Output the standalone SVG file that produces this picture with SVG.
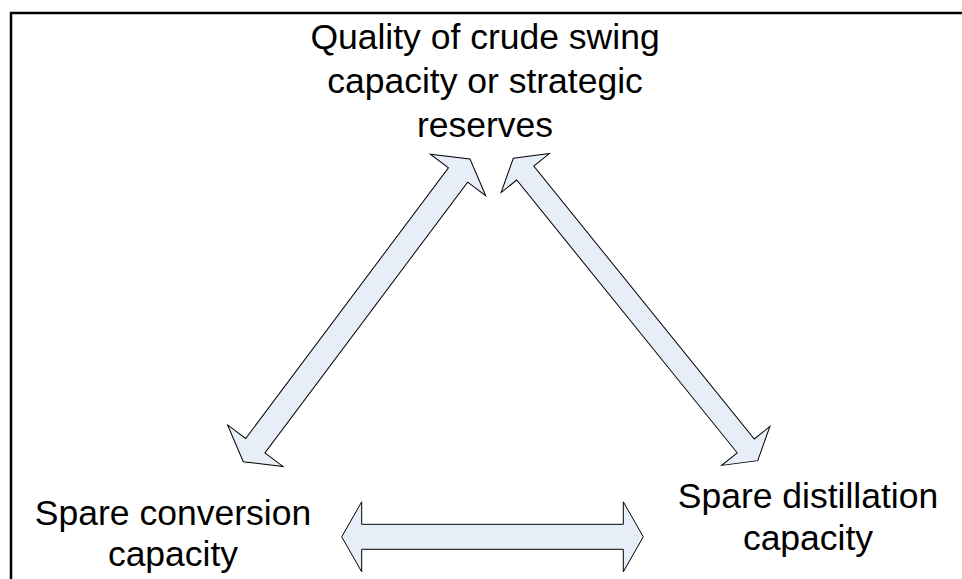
<svg xmlns="http://www.w3.org/2000/svg" width="962" height="579" viewBox="0 0 962 579">
  <style>
    .label { font-family: "Liberation Sans", Arial, sans-serif; font-size: 35.5px; fill: #000; text-anchor: middle; }
    .arrow { fill: #E8EEF8; stroke: #000; stroke-width: 1; stroke-linejoin: miter; }
    .frame { fill: none; stroke: #000; stroke-width: 2.5; }
  </style>

  <rect x="0" y="0" width="962" height="579" fill="#fff"/>

  <!-- open frame: left and top edges -->
  <path class="frame" d="M11,579 V13 H962"/>

  <!-- double-headed block arrows, drawn along local x from tip to tip -->
  <g id="connectors">
    <!-- crude quality <-> spare conversion -->
    <g transform="translate(243.3,461.7) rotate(-53.17)">
      <path class="arrow" d="M0,0 L20,-34.6 L20,-12 L358.2,-12 L358.2,-34.6 L378.2,0 L358.2,34.6 L358.2,12 L20,12 L20,34.6 Z"/>
    </g>
    <!-- crude quality <-> spare distillation -->
    <g transform="translate(513.3,158.3) rotate(51.05)">
      <path class="arrow" d="M0,0 L19,-31 L19,-11 L369.8,-11 L369.8,-31 L388.8,0 L369.8,31 L369.8,11 L19,11 L19,31 Z"/>
    </g>
    <!-- spare conversion <-> spare distillation -->
    <g transform="translate(341.7,536.8)">
      <path class="arrow" d="M0,0 L20,-35 L20,-12.5 L281.6,-12.5 L281.6,-35 L301.6,0 L281.6,35 L281.6,12.5 L20,12.5 L20,35 Z"/>
    </g>
  </g>

  <g id="node-crude">
    <text class="label" x="485" y="49">Quality of crude swing</text>
    <text class="label" x="485" y="93">capacity or strategic</text>
    <text class="label" x="485" y="137">reserves</text>
  </g>

  <g id="node-conversion">
    <text class="label" x="173" y="525">Spare conversion</text>
    <text class="label" x="173" y="566">capacity</text>
  </g>

  <g id="node-distillation">
    <text class="label" x="808" y="508">Spare distillation</text>
    <text class="label" x="808" y="550">capacity</text>
  </g>
</svg>
